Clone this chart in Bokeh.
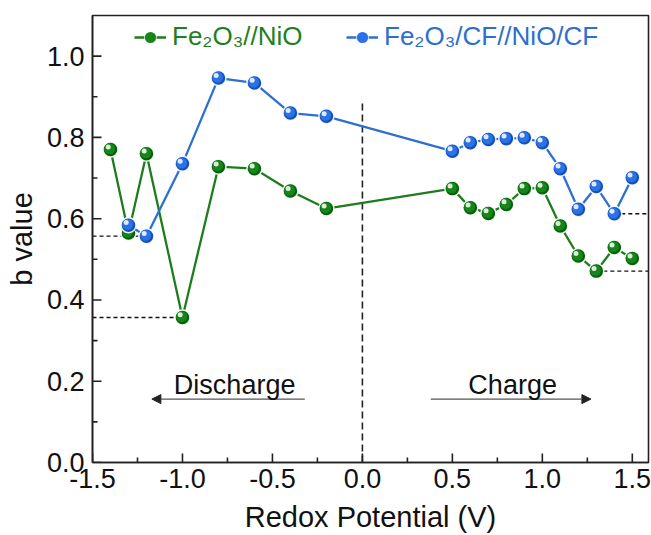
from bokeh.plotting import figure
from bokeh.models import (Range1d, FixedTicker, NumeralTickFormatter, Legend,
                          LegendItem, Arrow, NormalHead, Label)
from bokeh.embed import file_html
from bokeh.resources import INLINE

# Redox potential (V) at which the b value was evaluated
potential = [-1.4, -1.3, -1.2, -1.0, -0.8, -0.6, -0.4, -0.2,
             0.5, 0.6, 0.7, 0.8, 0.9, 1.0, 1.1, 1.2, 1.3, 1.4, 1.5]
b_nio = [0.770, 0.565, 0.760, 0.357, 0.728, 0.723, 0.668, 0.625,
         0.674, 0.627, 0.613, 0.635, 0.674, 0.676, 0.582, 0.508, 0.471, 0.529, 0.502]

potential_cf = [-1.3, -1.2, -1.0, -0.8, -0.6, -0.4, -0.2,
                0.5, 0.6, 0.7, 0.8, 0.9, 1.0, 1.1, 1.2, 1.3, 1.4, 1.5]
b_cf = [0.584, 0.557, 0.735, 0.946, 0.934, 0.860, 0.852,
        0.766, 0.787, 0.795, 0.797, 0.799, 0.787, 0.723, 0.623, 0.679, 0.612, 0.701]

x_ticks = [-1.5, -1.0, -0.5, 0.0, 0.5, 1.0, 1.5]
x_minor = [-1.25, -0.75, -0.25, 0.25, 0.75, 1.25]
y_ticks = [0.0, 0.2, 0.4, 0.6, 0.8, 1.0]
y_minor = [0.1, 0.3, 0.5, 0.7, 0.9]

label_nio = "Fe\u2082O\u2083//NiO"
label_cf = "Fe\u2082O\u2083/CF//NiO/CF"

FONT = "Liberation Sans"
GREEN_LINE, GREEN_RIM, GREEN_MID, GREEN_TXT = "#1d7d1d", "#05600a", "#16861a", "#1f7f1f"
BLUE_LINE, BLUE_RIM, BLUE_MID, BLUE_TXT = "#2e6fd2", "#1550b8", "#2a72e6", "#2d6ecf"
AXIS_C = "#222222"

X0, X1 = -1.5, 1.59
Y0, Y1 = 0.0, 1.1
W, H = 651, 535
ML, MR, MT, MB = 92, 3, 15, 72

p = figure(width=W, height=H, output_backend="svg", toolbar_location=None,
           x_range=Range1d(X0, X1), y_range=Range1d(Y0, Y1),
           min_border_left=ML, min_border_right=MR,
           min_border_top=MT, min_border_bottom=MB)
p.background_fill_color = "white"
p.border_fill_color = "white"
p.grid.visible = False
p.outline_line_color = AXIS_C
p.outline_line_width = 1.6

for ax in (p.xaxis[0], p.yaxis[0]):
    ax.axis_line_color = AXIS_C
    ax.axis_line_width = 1.6
    ax.major_tick_in = 0
    ax.major_tick_out = 0
    ax.minor_tick_in = 0
    ax.minor_tick_out = 0
    ax.major_label_text_font = FONT
    ax.major_label_text_font_size = "27px"
    ax.major_label_text_color = "#111111"
    ax.axis_label_text_font = FONT
    ax.axis_label_text_font_size = "29px"
    ax.axis_label_text_font_style = "normal"
    ax.axis_label_text_color = "#111111"
    ax.formatter = NumeralTickFormatter(format="0.0")

p.xaxis[0].ticker = FixedTicker(ticks=x_ticks, minor_ticks=x_minor)
p.yaxis[0].ticker = FixedTicker(ticks=y_ticks, minor_ticks=y_minor)
p.xaxis[0].axis_label = "Redox Potential (V)"
p.yaxis[0].axis_label = "b value"
p.xaxis[0].major_label_standoff = 6
p.xaxis[0].axis_label_standoff = 10
p.yaxis[0].major_label_standoff = 8
p.yaxis[0].axis_label_standoff = 6

# pixel size in data units
px = (X1 - X0) / (W - ML - MR)
py = (Y1 - Y0) / (H - MT - MB)

# inward tick marks along the bottom and left axes
tick_kw = dict(line_color=AXIS_C, line_width=1.6)
p.segment(x0=x_ticks, y0=[Y0] * len(x_ticks), x1=x_ticks,
          y1=[Y0 + 9 * py] * len(x_ticks), **tick_kw)
p.segment(x0=x_minor, y0=[Y0] * len(x_minor), x1=x_minor,
          y1=[Y0 + 5 * py] * len(x_minor), **tick_kw)
p.segment(x0=[X0] * len(y_ticks), y0=y_ticks, x1=[X0 + 9 * px] * len(y_ticks),
          y1=y_ticks, **tick_kw)
p.segment(x0=[X0] * len(y_minor), y0=y_minor, x1=[X0 + 5 * px] * len(y_minor),
          y1=y_minor, **tick_kw)

# dashed guide lines from the axes to selected points
dash_kw = dict(line_color="#111111", line_width=1.4, line_dash="4 3")
i_cf_left = potential_cf.index(-1.2)
i_nio_left = potential.index(-1.0)
i_cf_right = potential_cf.index(1.4)
i_nio_right = potential.index(1.3)
p.segment(x0=[X0, X0], y0=[b_cf[i_cf_left], b_nio[i_nio_left]],
          x1=[potential_cf[i_cf_left], potential[i_nio_left]],
          y1=[b_cf[i_cf_left], b_nio[i_nio_left]], **dash_kw)
p.segment(x0=[potential_cf[i_cf_right], potential[i_nio_right]],
          y0=[b_cf[i_cf_right], b_nio[i_nio_right]],
          x1=[X1, X1], y1=[b_cf[i_cf_right], b_nio[i_nio_right]], **dash_kw)

# divider between discharge and charge
p.segment(x0=[0.0], y0=[0.0], x1=[0.0], y1=[0.885],
          line_color=AXIS_C, line_width=1.6, line_dash="7 4")


def sphere_series(xs, ys, line_c, rim_c, mid_c):
    ln = p.line(xs, ys, line_color=line_c, line_width=2.3)
    base = p.scatter(xs, ys, size=15, fill_color=rim_c, line_color="white",
                     line_width=1.5, line_alpha=0.9)
    mid = p.scatter([x - 0.8 * px for x in xs], [y + 0.8 * py for y in ys],
                    size=11, fill_color=mid_c, line_color=None)
    p.scatter([x - 2.3 * px for x in xs], [y + 2.6 * py for y in ys],
              size=5, fill_color="white", fill_alpha=0.85, line_color=None)
    return [ln, base, mid]


r_nio = sphere_series(potential, b_nio, GREEN_LINE, GREEN_RIM, GREEN_MID)
r_cf = sphere_series(potential_cf, b_cf, BLUE_LINE, BLUE_RIM, BLUE_MID)


def make_legend(label, renderers, color, loc):
    lg = Legend(items=[LegendItem(label=label, renderers=renderers)],
                location=loc, orientation="horizontal",
                label_text_font=FONT, label_text_font_size="26px",
                label_text_color=color, glyph_width=32, glyph_height=28,
                label_standoff=6, padding=0, margin=0, spacing=0,
                border_line_color=None, background_fill_alpha=0)
    p.add_layout(lg, "center")


make_legend(label_nio, r_nio, GREEN_TXT, (42, 410))
make_legend(label_cf, r_cf, BLUE_TXT, (254, 410))

# discharge / charge annotations
arrow_y = 0.156
text_y = 0.19
head = dict(size=9, fill_color="#222222", line_color="#222222")
p.add_layout(Arrow(end=NormalHead(**head), x_start=-0.32, y_start=arrow_y,
                   x_end=-1.17, y_end=arrow_y, line_color="#555555", line_width=1.2))
p.add_layout(Arrow(end=NormalHead(**head), x_start=0.38, y_start=arrow_y,
                   x_end=1.27, y_end=arrow_y, line_color="#555555", line_width=1.2))
p.add_layout(Label(x=-0.71, y=text_y, text="Discharge", text_align="center",
                   text_baseline="alphabetic", text_font=FONT,
                   text_font_size="27px", text_color="#111111"))
p.add_layout(Label(x=0.835, y=text_y, text="Charge", text_align="center",
                   text_baseline="alphabetic", text_font=FONT,
                   text_font_size="27px", text_color="#111111"))

open("out.html", "w").write(file_html(p, INLINE))
